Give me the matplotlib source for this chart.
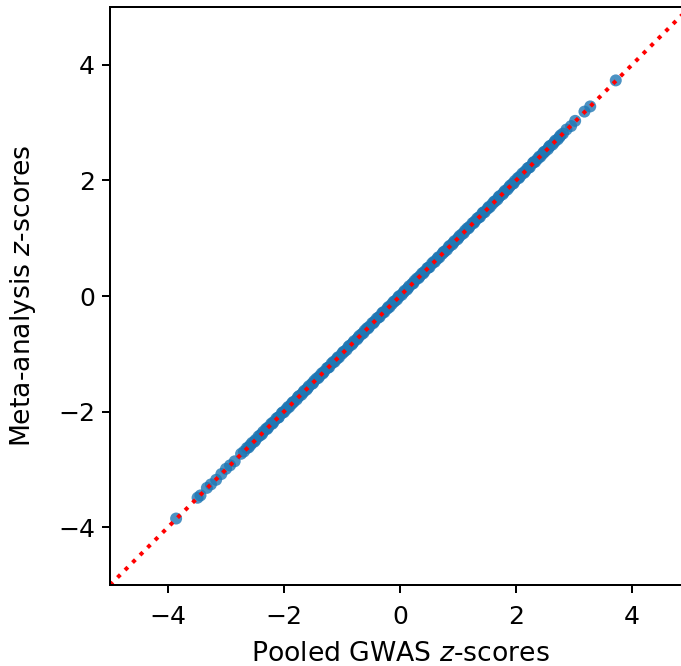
import matplotlib
matplotlib.use("Agg")
import matplotlib.pyplot as plt
import numpy as np

# z-scores (pooled GWAS vs meta-analysis)
pooled_tail_low = [-3.86, -3.49, -3.44, -3.33, -3.26, -3.17, -3.08, -3.0, -2.93,
                   -2.85, -2.74, -2.69]
pooled_core = [-2.64, -2.61, -2.58, -2.55, -2.51, -2.49, -2.44, -2.41, -2.38, -2.36,
               -2.31, -2.29, -2.27, -2.22, -2.2, -2.18, -2.13, -2.1, -2.09, -2.04,
               -2.02, -2.0, -1.96, -1.93, -1.91, -1.87, -1.85, -1.83, -1.78, -1.76,
               -1.74, -1.7, -1.67, -1.65, -1.61, -1.59, -1.57, -1.52, -1.5, -1.48,
               -1.44, -1.41, -1.39, -1.35, -1.33, -1.31, -1.26, -1.24, -1.22, -1.18,
               -1.15, -1.13, -1.09, -1.07, -1.05, -1.0, -0.98, -0.96, -0.92, -0.89,
               -0.87, -0.83, -0.81, -0.79, -0.74, -0.72, -0.7, -0.66, -0.63, -0.61,
               -0.57, -0.55, -0.53, -0.48, -0.46, -0.44, -0.4, -0.37, -0.35, -0.31,
               -0.29, -0.27, -0.22, -0.2, -0.18, -0.14, -0.11, -0.09, -0.05, -0.03,
               -0.01, 0.03, 0.06, 0.08, 0.12, 0.14, 0.16, 0.21, 0.23, 0.25, 0.29,
               0.32, 0.34, 0.38, 0.4, 0.42, 0.47, 0.49, 0.51, 0.55, 0.58, 0.6, 0.64,
               0.66, 0.68, 0.73, 0.75, 0.77, 0.81, 0.84, 0.86, 0.9, 0.92, 0.94, 0.99,
               1.01, 1.03, 1.07, 1.1, 1.12, 1.16, 1.18, 1.2, 1.25, 1.27, 1.29, 1.33,
               1.36, 1.38, 1.42, 1.44, 1.46, 1.51, 1.53, 1.55, 1.59, 1.62, 1.64,
               1.68, 1.7, 1.72, 1.77, 1.79, 1.81, 1.85, 1.88, 1.9, 1.94, 1.96, 1.98,
               2.03, 2.05, 2.07, 2.11, 2.14, 2.16, 2.2, 2.22, 2.24, 2.29, 2.31, 2.33,
               2.37, 2.4, 2.42, 2.46, 2.48, 2.5, 2.55, 2.57, 2.59, 2.63, 2.66, 2.68,
               2.72, 2.75, 2.77, 2.81]
pooled_tail_high = [2.87, 2.95, 3.02, 3.18, 3.28, 3.72]

# meta-analysis z-scores: sit on the identity line, small deviations
meta_tail_low = [-3.85, -3.49, -3.45, -3.32, -3.26, -3.18, -3.08, -2.99, -2.93,
                 -2.86, -2.73, -2.69]
meta_core_dev = [0.01, -0.01, 0.0, 0.01, -0.01, 0.0, 0.01, 0.0, -0.01, 0.01]
meta_tail_high = [2.88, 2.94, 3.03, 3.19, 3.28, 3.73]

meta_core = [v + meta_core_dev[i % len(meta_core_dev)] for i, v in enumerate(pooled_core)]

x = np.array(pooled_tail_low + pooled_core + pooled_tail_high)
y = np.array(meta_tail_low + meta_core + meta_tail_high)

lim = (-5, 5)

fig = plt.figure(figsize=(681 / 144, 666 / 144), dpi=144)
ax = fig.add_axes([110 / 681, 81 / 666, 580 / 681, 578 / 666])

ax.scatter(x, y, s=36, color="C0", alpha=0.8, edgecolors="none")
ax.plot(lim, lim, "r:", lw=2)

ax.set_xlim(lim)
ax.set_ylim(lim)
ax.set_xticks([-4, -2, 0, 2, 4])
ax.set_yticks([-4, -2, 0, 2, 4])
ax.tick_params(labelsize=12.5, length=4, width=1)
ax.tick_params(axis="x", pad=6)
for sp in ax.spines.values():
    sp.set_linewidth(1)
ax.set_xlabel("Pooled GWAS $z$-scores", fontsize=13.3, labelpad=6)
ax.set_ylabel("Meta-analysis $z$-scores", fontsize=13.3, labelpad=10)

fig.savefig("out.png", dpi=144)
plt.close(fig)
